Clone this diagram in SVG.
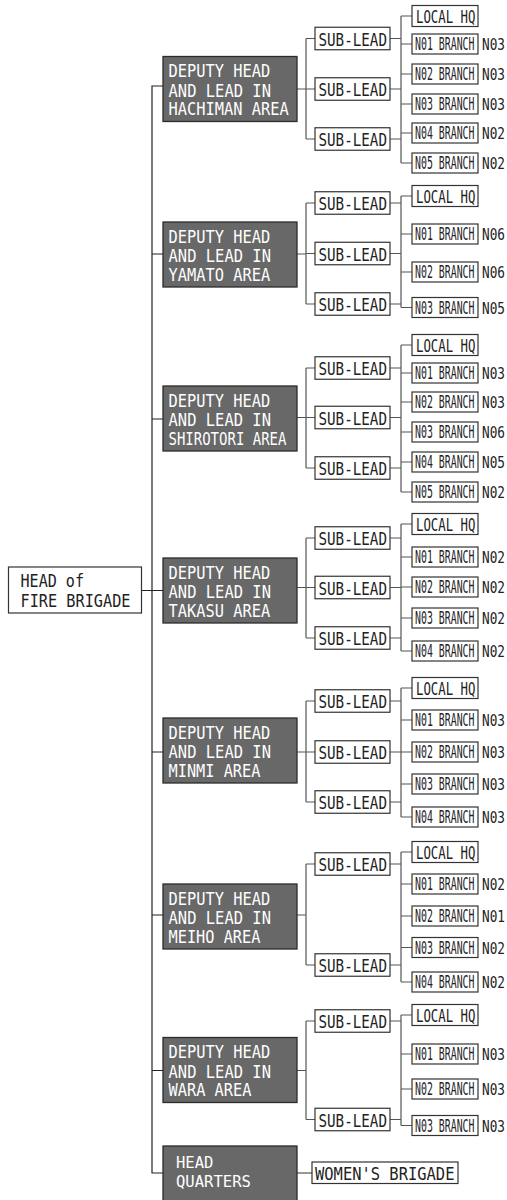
<svg xmlns="http://www.w3.org/2000/svg" width="507" height="1200" viewBox="0 0 507 1200">
<style>
.bg{fill:#fff}
.dep{fill:#686868;stroke:#2b2b2b;stroke-width:1.3}
.box{fill:#fff;stroke:#333;stroke-width:1.2}
.ln{fill:none;stroke:#555;stroke-width:1.2}
.tr{fill:none;stroke:#222;stroke-width:1.2}
text{font-family:"DejaVu Sans Mono","Liberation Mono",monospace;fill:#222}
.w{fill:#fff;font-size:18.5px}
.sl{font-size:18px}
.br{font-size:17px}
.hq{font-size:18.5px}
.lb{font-size:16px}
.hd{font-size:18.5px}
.q{fill:#fff;font-size:16px}
</style>
<rect class="bg" x="0" y="0" width="507" height="1200"/>

<g id="connectors">
<path class="tr" d="M163,86H152V1173H163M142,590.5H163M152,254H163M152,419H163M152,752H163M152,915H163M152,1070.5H163"/>
<path class="ln" d="M297,89H306M306,38.5V139M306,38.5H315M306,89H315M306,139H315M390,38.5H401M390,89H401M390,139H401M401,16V163M401,16H412M401,44H412M401,74H412M401,104H412M401,133H412M401,163H412"/>
<path class="ln" d="M297,254H306M306,203V304M306,203H315M306,253.5H315M306,304H315M390,203H401M390,253.5H401M390,304H401M401,196V307.5M401,196H412M401,234H412M401,272H412M401,307.5H412"/>
<path class="ln" d="M297,417.5H306M306,368V468M306,368H315M306,417.5H315M306,468H315M390,368H401M390,417.5H401M390,468H401M401,345V492M401,345H412M401,373H412M401,402H412M401,432H412M401,462H412M401,492H412"/>
<path class="ln" d="M297,587.5H306M306,538V638M306,538H315M306,587.5H315M306,638H315M390,538H401M390,587.5H401M390,638H401M401,524V651M401,524H412M401,557H412M401,587H412M401,618H412M401,651H412"/>
<path class="ln" d="M297,752H306M306,701V802M306,701H315M306,752H315M306,802H315M390,701H401M390,752H401M390,802H401M401,688V817M401,688H412M401,720H412M401,752H412M401,784H412M401,817H412"/>
<path class="ln" d="M297,915H306M306,864V965M306,864H315M306,965H315M390,864H401M390,965H401M401,852V982M401,852H412M401,884H412M401,916H412M401,947.5H412M401,982H412"/>
<path class="ln" d="M297,1070.5H306M306,1021V1119.5M306,1021H315M306,1119.5H315M390,1021H401M390,1119.5H401M401,1015V1125.5M401,1015H412M401,1054H412M401,1089H412M401,1125.5H412"/>
<path class="ln" d="M297,1173H312"/>
</g>

<g id="head">
<rect class="box" x="8.5" y="567" width="133" height="46"/>
<text class="hd" transform="matrix(0.815 0 0 1 20.5 586.7)">HEAD of</text>
<text class="hd" transform="matrix(0.823 0 0 1 20.5 606.7)">FIRE BRIGADE</text>
</g>

<g id="hachiman">
<rect class="dep" x="163" y="56.5" width="134" height="65"/>
<text class="w" transform="matrix(0.83 0 0 1 168.5 77.3)">DEPUTY HEAD</text>
<text class="w" transform="matrix(0.837 0 0 1 168.5 96.5)">AND LEAD IN</text>
<text class="w" transform="matrix(0.832 0 0 1 168.5 115)">HACHIMAN AREA</text>
</g>
<g id="hachiman-subs">
<rect class="box" x="315" y="27.25" width="75" height="22.5"/><text class="sl" transform="matrix(0.79 0 0 1 318.5 45.5)">SUB-LEAD</text>
<rect class="box" x="315" y="77.75" width="75" height="22.5"/><text class="sl" transform="matrix(0.79 0 0 1 318.5 96)">SUB-LEAD</text>
<rect class="box" x="315" y="127.75" width="75" height="22.5"/><text class="sl" transform="matrix(0.79 0 0 1 318.5 146)">SUB-LEAD</text>
</g>
<g id="hachiman-branches">
<rect class="box" x="412" y="5.5" width="66" height="21"/><text class="hq" transform="matrix(0.668 0 0 1 416 23)">LOCAL HQ</text>
<rect class="box" x="412" y="34" width="66" height="20"/><text class="br" transform="matrix(0.582 0 0 1 415 50)">N01 BRANCH</text><text class="lb" transform="matrix(0.796 0 0 1 482 50)">N03</text>
<rect class="box" x="412" y="64" width="66" height="20"/><text class="br" transform="matrix(0.582 0 0 1 415 80)">N02 BRANCH</text><text class="lb" transform="matrix(0.796 0 0 1 482 80)">N03</text>
<rect class="box" x="412" y="94" width="66" height="20"/><text class="br" transform="matrix(0.582 0 0 1 415 110)">N03 BRANCH</text><text class="lb" transform="matrix(0.796 0 0 1 482 110)">N03</text>
<rect class="box" x="412" y="123" width="66" height="20"/><text class="br" transform="matrix(0.582 0 0 1 415 139)">N04 BRANCH</text><text class="lb" transform="matrix(0.796 0 0 1 482 139)">N02</text>
<rect class="box" x="412" y="153" width="66" height="20"/><text class="br" transform="matrix(0.582 0 0 1 415 169)">N05 BRANCH</text><text class="lb" transform="matrix(0.796 0 0 1 482 169)">N02</text>
</g>

<g id="yamato">
<rect class="dep" x="163" y="222" width="134" height="65"/>
<text class="w" transform="matrix(0.83 0 0 1 168.5 242.8)">DEPUTY HEAD</text>
<text class="w" transform="matrix(0.837 0 0 1 168.5 262)">AND LEAD IN</text>
<text class="w" transform="matrix(0.83 0 0 1 168.5 280.5)">YAMATO AREA</text>
</g>
<g id="yamato-subs">
<rect class="box" x="315" y="191.75" width="75" height="22.5"/><text class="sl" transform="matrix(0.79 0 0 1 318.5 210)">SUB-LEAD</text>
<rect class="box" x="315" y="242.25" width="75" height="22.5"/><text class="sl" transform="matrix(0.79 0 0 1 318.5 260.5)">SUB-LEAD</text>
<rect class="box" x="315" y="292.75" width="75" height="22.5"/><text class="sl" transform="matrix(0.79 0 0 1 318.5 311)">SUB-LEAD</text>
</g>
<g id="yamato-branches">
<rect class="box" x="412" y="185.5" width="66" height="21"/><text class="hq" transform="matrix(0.668 0 0 1 416 203)">LOCAL HQ</text>
<rect class="box" x="412" y="224" width="66" height="20"/><text class="br" transform="matrix(0.582 0 0 1 415 240)">N01 BRANCH</text><text class="lb" transform="matrix(0.796 0 0 1 482 240)">N06</text>
<rect class="box" x="412" y="262" width="66" height="20"/><text class="br" transform="matrix(0.582 0 0 1 415 278)">N02 BRANCH</text><text class="lb" transform="matrix(0.796 0 0 1 482 278)">N06</text>
<rect class="box" x="412" y="297.5" width="66" height="20"/><text class="br" transform="matrix(0.582 0 0 1 415 313.5)">N03 BRANCH</text><text class="lb" transform="matrix(0.796 0 0 1 482 313.5)">N05</text>
</g>

<g id="shirotori">
<rect class="dep" x="163" y="386" width="134" height="65"/>
<text class="w" transform="matrix(0.83 0 0 1 168.5 406.8)">DEPUTY HEAD</text>
<text class="w" transform="matrix(0.837 0 0 1 168.5 426)">AND LEAD IN</text>
<text class="w" transform="matrix(0.757 0 0 1 168.5 444.5)">SHIROTORI AREA</text>
</g>
<g id="shirotori-subs">
<rect class="box" x="315" y="356.75" width="75" height="22.5"/><text class="sl" transform="matrix(0.79 0 0 1 318.5 375)">SUB-LEAD</text>
<rect class="box" x="315" y="406.25" width="75" height="22.5"/><text class="sl" transform="matrix(0.79 0 0 1 318.5 424.5)">SUB-LEAD</text>
<rect class="box" x="315" y="456.75" width="75" height="22.5"/><text class="sl" transform="matrix(0.79 0 0 1 318.5 475)">SUB-LEAD</text>
</g>
<g id="shirotori-branches">
<rect class="box" x="412" y="334.5" width="66" height="21"/><text class="hq" transform="matrix(0.668 0 0 1 416 352)">LOCAL HQ</text>
<rect class="box" x="412" y="363" width="66" height="20"/><text class="br" transform="matrix(0.582 0 0 1 415 379)">N01 BRANCH</text><text class="lb" transform="matrix(0.796 0 0 1 482 379)">N03</text>
<rect class="box" x="412" y="392" width="66" height="20"/><text class="br" transform="matrix(0.582 0 0 1 415 408)">N02 BRANCH</text><text class="lb" transform="matrix(0.796 0 0 1 482 408)">N03</text>
<rect class="box" x="412" y="422" width="66" height="20"/><text class="br" transform="matrix(0.582 0 0 1 415 438)">N03 BRANCH</text><text class="lb" transform="matrix(0.796 0 0 1 482 438)">N06</text>
<rect class="box" x="412" y="452" width="66" height="20"/><text class="br" transform="matrix(0.582 0 0 1 415 468)">N04 BRANCH</text><text class="lb" transform="matrix(0.796 0 0 1 482 468)">N05</text>
<rect class="box" x="412" y="482" width="66" height="20"/><text class="br" transform="matrix(0.582 0 0 1 415 498)">N05 BRANCH</text><text class="lb" transform="matrix(0.796 0 0 1 482 498)">N02</text>
</g>

<g id="takasu">
<rect class="dep" x="163" y="558" width="134" height="65"/>
<text class="w" transform="matrix(0.83 0 0 1 168.5 578.8)">DEPUTY HEAD</text>
<text class="w" transform="matrix(0.837 0 0 1 168.5 598)">AND LEAD IN</text>
<text class="w" transform="matrix(0.83 0 0 1 168.5 616.5)">TAKASU AREA</text>
</g>
<g id="takasu-subs">
<rect class="box" x="315" y="526.75" width="75" height="22.5"/><text class="sl" transform="matrix(0.79 0 0 1 318.5 545)">SUB-LEAD</text>
<rect class="box" x="315" y="576.25" width="75" height="22.5"/><text class="sl" transform="matrix(0.79 0 0 1 318.5 594.5)">SUB-LEAD</text>
<rect class="box" x="315" y="626.75" width="75" height="22.5"/><text class="sl" transform="matrix(0.79 0 0 1 318.5 645)">SUB-LEAD</text>
</g>
<g id="takasu-branches">
<rect class="box" x="412" y="513.5" width="66" height="21"/><text class="hq" transform="matrix(0.668 0 0 1 416 531)">LOCAL HQ</text>
<rect class="box" x="412" y="547" width="66" height="20"/><text class="br" transform="matrix(0.582 0 0 1 415 563)">N01 BRANCH</text><text class="lb" transform="matrix(0.796 0 0 1 482 563)">N02</text>
<rect class="box" x="412" y="577" width="66" height="20"/><text class="br" transform="matrix(0.582 0 0 1 415 593)">N02 BRANCH</text><text class="lb" transform="matrix(0.796 0 0 1 482 593)">N02</text>
<rect class="box" x="412" y="608" width="66" height="20"/><text class="br" transform="matrix(0.582 0 0 1 415 624)">N03 BRANCH</text><text class="lb" transform="matrix(0.796 0 0 1 482 624)">N02</text>
<rect class="box" x="412" y="641" width="66" height="20"/><text class="br" transform="matrix(0.582 0 0 1 415 657)">N04 BRANCH</text><text class="lb" transform="matrix(0.796 0 0 1 482 657)">N02</text>
</g>

<g id="minmi">
<rect class="dep" x="163" y="718" width="134" height="65"/>
<text class="w" transform="matrix(0.83 0 0 1 168.5 738.8)">DEPUTY HEAD</text>
<text class="w" transform="matrix(0.837 0 0 1 168.5 758)">AND LEAD IN</text>
<text class="w" transform="matrix(0.826 0 0 1 168.5 776.5)">MINMI AREA</text>
</g>
<g id="minmi-subs">
<rect class="box" x="315" y="689.75" width="75" height="22.5"/><text class="sl" transform="matrix(0.79 0 0 1 318.5 708)">SUB-LEAD</text>
<rect class="box" x="315" y="740.75" width="75" height="22.5"/><text class="sl" transform="matrix(0.79 0 0 1 318.5 759)">SUB-LEAD</text>
<rect class="box" x="315" y="790.75" width="75" height="22.5"/><text class="sl" transform="matrix(0.79 0 0 1 318.5 809)">SUB-LEAD</text>
</g>
<g id="minmi-branches">
<rect class="box" x="412" y="677.5" width="66" height="21"/><text class="hq" transform="matrix(0.668 0 0 1 416 695)">LOCAL HQ</text>
<rect class="box" x="412" y="710" width="66" height="20"/><text class="br" transform="matrix(0.582 0 0 1 415 726)">N01 BRANCH</text><text class="lb" transform="matrix(0.796 0 0 1 482 726)">N03</text>
<rect class="box" x="412" y="742" width="66" height="20"/><text class="br" transform="matrix(0.582 0 0 1 415 758)">N02 BRANCH</text><text class="lb" transform="matrix(0.796 0 0 1 482 758)">N03</text>
<rect class="box" x="412" y="774" width="66" height="20"/><text class="br" transform="matrix(0.582 0 0 1 415 790)">N03 BRANCH</text><text class="lb" transform="matrix(0.796 0 0 1 482 790)">N03</text>
<rect class="box" x="412" y="807" width="66" height="20"/><text class="br" transform="matrix(0.582 0 0 1 415 823)">N04 BRANCH</text><text class="lb" transform="matrix(0.796 0 0 1 482 823)">N03</text>
</g>

<g id="meiho">
<rect class="dep" x="163" y="884" width="134" height="65"/>
<text class="w" transform="matrix(0.83 0 0 1 168.5 904.8)">DEPUTY HEAD</text>
<text class="w" transform="matrix(0.837 0 0 1 168.5 924)">AND LEAD IN</text>
<text class="w" transform="matrix(0.826 0 0 1 168.5 942.5)">MEIHO AREA</text>
</g>
<g id="meiho-subs">
<rect class="box" x="315" y="852.75" width="75" height="22.5"/><text class="sl" transform="matrix(0.79 0 0 1 318.5 871)">SUB-LEAD</text>
<rect class="box" x="315" y="953.75" width="75" height="22.5"/><text class="sl" transform="matrix(0.79 0 0 1 318.5 972)">SUB-LEAD</text>
</g>
<g id="meiho-branches">
<rect class="box" x="412" y="841.5" width="66" height="21"/><text class="hq" transform="matrix(0.668 0 0 1 416 859)">LOCAL HQ</text>
<rect class="box" x="412" y="874" width="66" height="20"/><text class="br" transform="matrix(0.582 0 0 1 415 890)">N01 BRANCH</text><text class="lb" transform="matrix(0.796 0 0 1 482 890)">N02</text>
<rect class="box" x="412" y="906" width="66" height="20"/><text class="br" transform="matrix(0.582 0 0 1 415 922)">N02 BRANCH</text><text class="lb" transform="matrix(0.796 0 0 1 482 922)">N01</text>
<rect class="box" x="412" y="937.5" width="66" height="20"/><text class="br" transform="matrix(0.582 0 0 1 415 953.5)">N03 BRANCH</text><text class="lb" transform="matrix(0.796 0 0 1 482 953.5)">N02</text>
<rect class="box" x="412" y="972" width="66" height="20"/><text class="br" transform="matrix(0.582 0 0 1 415 988)">N04 BRANCH</text><text class="lb" transform="matrix(0.796 0 0 1 482 988)">N02</text>
</g>

<g id="wara">
<rect class="dep" x="163" y="1037.5" width="134" height="65"/>
<text class="w" transform="matrix(0.83 0 0 1 168.5 1058.3)">DEPUTY HEAD</text>
<text class="w" transform="matrix(0.837 0 0 1 168.5 1077.5)">AND LEAD IN</text>
<text class="w" transform="matrix(0.828 0 0 1 168.5 1096)">WARA AREA</text>
</g>
<g id="wara-subs">
<rect class="box" x="315" y="1009.75" width="75" height="22.5"/><text class="sl" transform="matrix(0.79 0 0 1 318.5 1028)">SUB-LEAD</text>
<rect class="box" x="315" y="1108.25" width="75" height="22.5"/><text class="sl" transform="matrix(0.79 0 0 1 318.5 1126.5)">SUB-LEAD</text>
</g>
<g id="wara-branches">
<rect class="box" x="412" y="1004.5" width="66" height="21"/><text class="hq" transform="matrix(0.668 0 0 1 416 1022)">LOCAL HQ</text>
<rect class="box" x="412" y="1044" width="66" height="20"/><text class="br" transform="matrix(0.582 0 0 1 415 1060)">N01 BRANCH</text><text class="lb" transform="matrix(0.796 0 0 1 482 1060)">N03</text>
<rect class="box" x="412" y="1079" width="66" height="20"/><text class="br" transform="matrix(0.582 0 0 1 415 1095)">N02 BRANCH</text><text class="lb" transform="matrix(0.796 0 0 1 482 1095)">N03</text>
<rect class="box" x="412" y="1115.5" width="66" height="20"/><text class="br" transform="matrix(0.582 0 0 1 415 1131.5)">N03 BRANCH</text><text class="lb" transform="matrix(0.796 0 0 1 482 1131.5)">N03</text>
</g>

<g id="headquarters">
<rect class="dep" x="163" y="1146" width="134" height="65"/>
<text class="q" transform="matrix(0.973 0 0 1 176 1168.3)">HEAD</text>
<text class="q" transform="matrix(0.973 0 0 1 176 1186.7)">QUARTERS</text>
</g>
<g id="womens-brigade">
<rect class="box" x="312" y="1162" width="146" height="21.5"/>
<text class="sl" transform="matrix(0.858 0 0 1 315 1180)">WOMEN'S BRIGADE</text>
</g>
</svg>
